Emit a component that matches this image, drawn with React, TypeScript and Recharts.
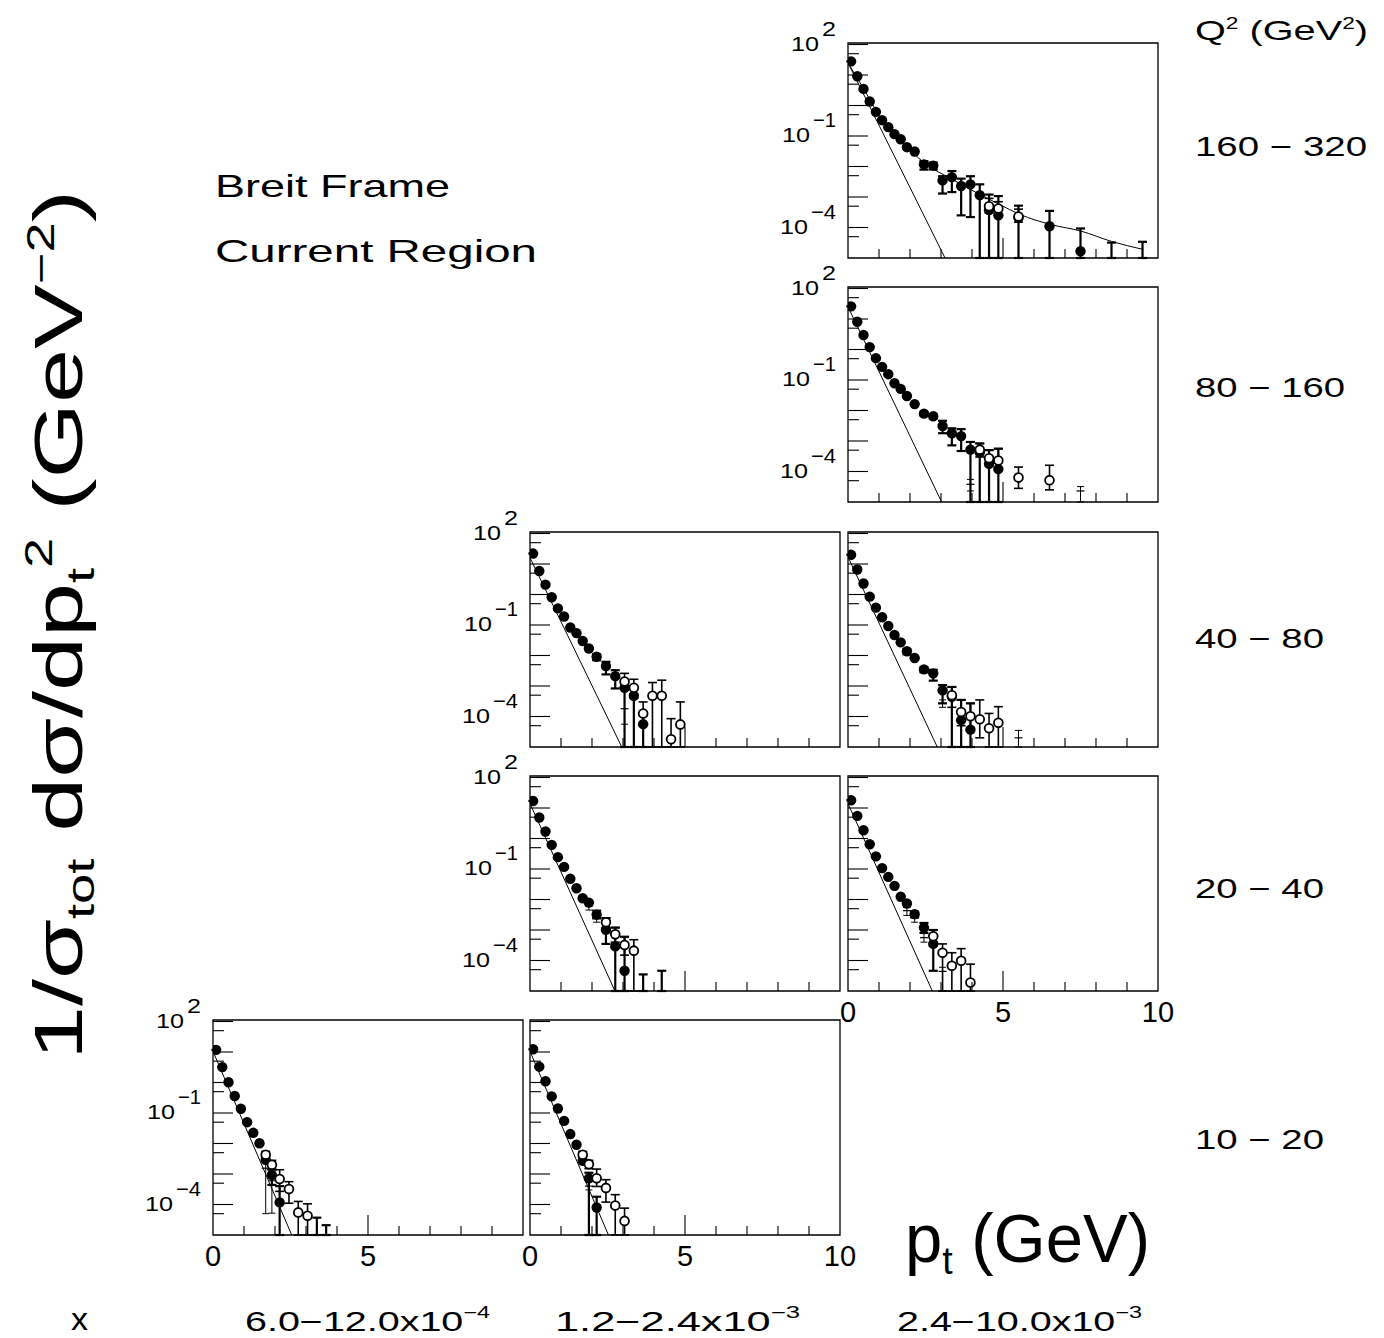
import React from 'react';
import { ComposedChart, Scatter, Line, XAxis, YAxis, ErrorBar, ReferenceArea } from 'recharts';

type Pt = [number, number, number?, number?]; // pt, value, low, high
type LP = [number, number];

const BOT = 1e-5; // error bar running down to the bottom of the frame (and hidden points)
const FONT = '"Liberation Sans", Arial, sans-serif';

const xTicks = [0, 1, 2, 3, 4, 5, 6, 7, 8, 9, 10];
const yTicks = [100, 50, 10, 5, 1, 0.5, 0.1, 0.05, 0.01, 0.005, 0.001, 5e-4, 1e-4, 5e-5];
const yLabelTicks: [number, string, number][] = [[100, '2', 14], [0.1, '−1', 23], [1e-4, '−4', 25]];

const q2Bins = ['160 − 320', '80 − 160', '40 − 80', '20 − 40', '10 − 20'];
const xBins: [string, string][] = [['6.0−12.0x10', '−4'], ['1.2−2.4x10', '−3'], ['2.4−10.0x10', '−3']];

// ---------- Q2 160-320, x 2.4-10.0e-3 ----------
const filled_160_320: Pt[] = [
  [0.1, 28], [0.3, 9.1], [0.5, 3.5], [0.7, 1.35], [0.9, 0.62], [1.1, 0.33], [1.3, 0.195],
  [1.5, 0.115], [1.7, 0.078], [1.9, 0.043], [2.15, 0.031], [2.45, 0.0117, 0.0079, 0.015],
  [2.75, 0.0107, 0.008, 0.0135], [3.05, 3.5e-3, 1.3e-3, 4.8e-3], [3.35, 4.5e-3, 1.45e-3, 7.1e-3],
  [3.65, 2.3e-3, 2.5e-4, 4.0e-3], [3.95, 2.6e-3, 2.2e-4, 4.8e-3], [4.25, 1.15e-3, BOT, 2.6e-3],
  [4.55, 3.7e-4, BOT, 1.2e-3], [4.85, 2.5e-4, BOT, 1.07e-3], [5.5, 2.1e-4, BOT, 5.2e-4],
  [6.5, 1.1e-4, BOT, 3.5e-4], [7.5, 1.66e-5, BOT, 9.3e-5], [8.5, BOT, BOT, 3.2e-5], [9.5, BOT, BOT, 3.4e-5],
];
const open_160_320: Pt[] = [[4.55, 5.0e-4, 3e-4, 9e-4], [4.85, 4.2e-4, 2.5e-4, 7e-4], [5.5, 2.3e-4, 1.5e-4, 4e-4]];
const cross_160_320: Pt[] = [];
const steep_160_320: LP[] = [[0, 25], [3.13, 1e-5]];
const fit_160_320: LP[] = [
  [0, 25], [0.5, 3.6], [1.12, 0.31], [1.72, 0.068], [2.46, 0.0132], [3.38, 3.7e-3], [4.26, 1.2e-3],
  [4.9, 5.6e-4], [5.54, 2.7e-4], [6.53, 1.26e-4], [7.52, 7.6e-5], [8.5, 3.5e-5], [9.53, 1.9e-5],
];

// ---------- Q2 80-160, x 2.4-10.0e-3 ----------
const filled_80_160: Pt[] = [
  [0.1, 26], [0.3, 8.1], [0.5, 3.0], [0.7, 1.2], [0.9, 0.52], [1.1, 0.27], [1.3, 0.155], [1.5, 0.078],
  [1.7, 0.051], [1.9, 0.030], [2.15, 0.0162], [2.45, 7.9e-3, 6.8e-3, 9e-3], [2.75, 6.5e-3, 5.5e-3, 7.5e-3],
  [3.05, 3.1e-3, 1.8e-3, 4.6e-3], [3.35, 1.8e-3, 7.2e-4, 2.6e-3], [3.65, 1.45e-3, 4.7e-4, 2.45e-3],
  [3.95, 5.2e-4, BOT, 9.3e-4], [4.25, 4.2e-4, BOT, 8.3e-4], [4.55, 1.8e-4, BOT, 5e-4], [4.85, 1.2e-4, BOT, 5.6e-4],
];
const open_80_160: Pt[] = [
  [4.25, 5.2e-4, 3e-4, 8.3e-4], [4.55, 2.7e-4, 1.5e-4, 5e-4], [4.85, 2.3e-4, 1.2e-4, 5.6e-4],
  [5.5, 6.3e-5, 2.8e-5, 1.4e-4], [6.5, 5.2e-5, 2.5e-5, 1.6e-4],
];
const cross_80_160: Pt[] = [[3.95, 3.8e-5, 2.3e-5, 5.5e-5], [7.5, 2.3e-5, BOT, 3.2e-5]];
const steep_80_160: LP[] = [[0, 25], [3.02, 1e-5]];

// ---------- Q2 40-80, x 1.2-2.4e-3 ----------
const filled_40_80_a: Pt[] = [
  [0.1, 22], [0.3, 5.9], [0.5, 2.1], [0.7, 0.81], [0.9, 0.35], [1.1, 0.19], [1.3, 0.083], [1.5, 0.054],
  [1.7, 0.030], [1.9, 0.017], [2.15, 9.1e-3, 7e-3, 1.1e-2], [2.45, 4.5e-3, 2.4e-3, 6.2e-3],
  [2.75, 2.1e-3, 8.3e-4, 3.3e-3], [3.05, 8.7e-4, BOT, 1.2e-3], [3.35, 4.8e-4, BOT, 9e-4], [3.65, 5.6e-5, BOT, 1.1e-4],
];
const open_40_80_a: Pt[] = [
  [3.05, 1.4e-3, 8e-4, 2.6e-3], [3.35, 8.7e-4, 4e-4, 1.66e-3], [3.65, 1.26e-4, 5e-5, 3e-4],
  [3.95, 4.8e-4, BOT, 1.3e-3], [4.25, 4.8e-4, BOT, 1.55e-3], [4.55, 1.8e-5, BOT, 8.5e-5], [4.85, 5.5e-5, BOT, 3e-4],
];
const cross_40_80_a: Pt[] = [[3.05, 1.8e-4, 5.6e-5, 8e-4]];
const steep_40_80_a: LP[] = [[0, 16], [2.96, 1e-5]];

// ---------- Q2 40-80, x 2.4-10.0e-3 ----------
const filled_40_80_b: Pt[] = [
  [0.1, 20], [0.3, 6.6], [0.5, 2.3], [0.7, 0.85], [0.9, 0.37], [1.1, 0.18], [1.3, 0.093], [1.5, 0.047],
  [1.7, 0.027], [1.9, 0.0138, 0.011, 0.016], [2.15, 8.3e-3], [2.45, 3.5e-3, 2.8e-3, 4.1e-3],
  [2.75, 2.6e-3, 1.5e-3, 3.4e-3], [3.05, 7.2e-4, 2.7e-4, 1.07e-3], [3.35, 4.4e-4, BOT, 9.3e-4],
  [3.65, 7.6e-5, BOT, 3.5e-4], [3.95, 3.7e-5, BOT, 2.7e-4],
];
const open_40_80_b: Pt[] = [
  [3.35, 5e-4, 2e-4, 9.3e-4], [3.65, 1.4e-4, 5e-5, 3.5e-4], [3.95, 1.02e-4, 4e-5, 2.7e-4],
  [4.25, 8.1e-5, 2e-5, 3.5e-4], [4.55, 4.1e-5, BOT, 1.26e-4], [4.85, 6.2e-5, BOT, 2.1e-4],
];
const cross_40_80_b: Pt[] = [[3.05, 2.7e-4, 2e-4, 3.5e-4], [5.5, 2e-5, BOT, 3.5e-5]];
const steep_40_80_b: LP[] = [[0, 17], [2.88, 1e-5]];

// ---------- Q2 20-40, x 1.2-2.4e-3 ----------
const filled_20_40_a: Pt[] = [
  [0.1, 17], [0.3, 4.9], [0.5, 1.7], [0.7, 0.62], [0.9, 0.245], [1.1, 0.117], [1.3, 0.048], [1.5, 0.0234],
  [1.7, 0.011], [1.9, 7.9e-3], [2.15, 3.2e-3, 2.4e-3, 4.3e-3], [2.45, 1.02e-3, 3.5e-4, 2.45e-3],
  [2.75, 2.9e-4, BOT, 1.2e-3], [3.05, 4.6e-5, BOT, 6e-4], [3.65, BOT, BOT, 3.5e-5], [4.25, BOT, BOT, 4.6e-5],
];
const open_20_40_a: Pt[] = [
  [2.45, 1.8e-3, 1.2e-3, 2.5e-3], [2.75, 7.2e-4, 4e-4, 1.2e-3], [3.05, 3.2e-4, 1.5e-4, 6e-4], [3.35, 2.1e-4, BOT, 4.8e-4],
];
const cross_20_40_a: Pt[] = [[1.9, 6.2e-3, 4.5e-3, 7.5e-3], [2.15, 2.6e-3, 1.8e-3, 3.5e-3]];
const steep_20_40_a: LP[] = [[0, 14], [2.74, 1e-5]];

// ---------- Q2 20-40, x 2.4-10.0e-3 ----------
const filled_20_40_b: Pt[] = [
  [0.1, 18], [0.3, 5.5], [0.5, 1.86], [0.7, 0.65], [0.9, 0.26], [1.1, 0.107], [1.3, 0.055], [1.5, 0.028],
  [1.7, 0.0123], [1.9, 7.4e-3], [2.15, 3.3e-3, 2.6e-3, 4e-3], [2.45, 1.2e-3, 8e-4, 1.7e-3], [2.75, 3.5e-4, 4.6e-5, 1e-3],
];
const open_20_40_b: Pt[] = [
  [2.75, 6.2e-4, 3e-4, 1e-3], [3.05, 1.8e-4, BOT, 3.5e-4], [3.35, 6.7e-5, BOT, 1.8e-4],
  [3.65, 9.8e-5, BOT, 2.45e-4], [3.95, 1.9e-5, BOT, 7.6e-5],
];
const cross_20_40_b: Pt[] = [
  [1.9, 4.3e-3, 3e-3, 5.5e-3], [2.15, 2.5e-3, 1.8e-3, 3.3e-3], [2.45, 5.6e-4, 4e-4, 8e-4], [3.05, 4.4e-5, BOT, 6e-5],
];
const steep_20_40_b: LP[] = [[0, 14], [2.72, 1e-5]];

// ---------- Q2 10-20, x 6.0-12.0e-4 ----------
const filled_10_20_a: Pt[] = [
  [0.1, 11.7], [0.3, 3.2], [0.5, 1.02], [0.7, 0.36], [0.9, 0.138], [1.1, 0.050], [1.3, 0.0224], [1.5, 0.0102],
  [1.7, 2.9e-3], [1.9, 9.3e-4, 4.4e-4, 1.4e-3], [2.15, 1.17e-4, BOT, 4e-4], [3.35, BOT, BOT, 3.7e-5], [3.65, BOT, BOT, 2.1e-5],
];
const open_10_20_a: Pt[] = [
  [1.7, 4.3e-3, 3.5e-3, 5.5e-3], [1.9, 2.0e-3, 1.4e-3, 2.8e-3], [2.15, 6.8e-4, 2.7e-4, 1.38e-3],
  [2.45, 3.2e-4, 1.1e-4, 5.6e-4], [2.75, 5.5e-5, BOT, 1.26e-4], [3.05, 4.3e-5, BOT, 1.05e-4],
];
const cross_10_20_a: Pt[] = [[1.7, 1.55e-3, 5e-5, 2.5e-3], [1.9, 4.4e-4, 5.2e-5, 6e-4]];
const steep_10_20_a: LP[] = [[0, 10.5], [2.54, 1e-5]];

// ---------- Q2 10-20, x 1.2-2.4e-3 ----------
const filled_10_20_b: Pt[] = [
  [0.1, 12.3], [0.3, 3.3], [0.5, 1.1], [0.7, 0.35], [0.9, 0.141], [1.1, 0.055], [1.3, 0.0204], [1.5, 9.1e-3],
  [1.7, 2.7e-3], [1.9, 7.2e-4, BOT, 1.1e-3], [2.15, 8e-5, BOT, 1.8e-4],
];
const open_10_20_b: Pt[] = [
  [1.7, 4.3e-3, 3.5e-3, 5.5e-3], [1.9, 2.1e-3, 1.5e-3, 2.8e-3], [2.15, 7.2e-4, 3.9e-4, 1.45e-3],
  [2.45, 3.5e-4, 1.2e-4, 6.5e-4], [2.75, 9.3e-5, BOT, 2.1e-4], [3.05, 2.9e-5, BOT, 7.6e-5],
];
const cross_10_20_b: Pt[] = [[1.9, 4e-4, 3e-4, 5.5e-4]];
const steep_10_20_b: LP[] = [[0, 10.5], [2.53, 1e-5]];

const toRows = (pts: Pt[]) =>
  pts.map(([x, y, lo, hi]) => {
    const l = lo === undefined ? y : lo;
    const h = hi === undefined ? y : hi;
    return { x, y, err: [Math.max(0, y - l), h - y] };
  });
const toLine = (pts: LP[]) => pts.map(([x, y]) => ({ x, y }));

const FilledDot = (p: any) =>
  p.payload && p.payload.y <= BOT ? <g /> : <circle cx={p.cx} cy={p.cy} r={5.2} fill="#000" />;
const OpenDot = (p: any) => <circle cx={p.cx} cy={p.cy} r={4.4} fill="#fff" stroke="#000" strokeWidth={1.8} />;
const CrossMark = (p: any) => <line x1={p.cx - 4} x2={p.cx + 4} y1={p.cy} y2={p.cy} stroke="#000" strokeWidth={1.2} />;

const makeYTick = (showLabels: boolean) => (props: any) => {
  const { x, y, payload } = props;
  const v = payload.value;
  const lg = Math.log10(v);
  const decade = Math.abs(lg - Math.round(lg)) < 1e-6;
  const len = decade ? 20 : 11;
  const lab = yLabelTicks.find((t) => Math.abs(Math.log10(t[0]) - lg) < 1e-6);
  return (
    <g>
      <line x1={x} x2={x + len} y1={y} y2={y} stroke="#000" strokeWidth={1.1} />
      {showLabels && lab && (
        <g fontFamily={FONT} fill="#000">
          <text x={x - 12} y={y - 9} textAnchor="end" fontSize={21} textLength={lab[2]} lengthAdjust="spacingAndGlyphs">
            {lab[1]}
          </text>
          <text x={x - 15 - lab[2]} y={y + 6} textAnchor="end" fontSize={21} textLength={28} lengthAdjust="spacingAndGlyphs">
            10
          </text>
        </g>
      )}
    </g>
  );
};

const makeXTick = (labels: number[]) => (props: any) => {
  const { x, y, payload } = props;
  const v = payload.value;
  const len = v === 0 || v === 10 ? 0 : v === 5 ? 20 : 9;
  return (
    <g>
      {len > 0 && <line x1={x} x2={x} y1={y} y2={y - len} stroke="#000" strokeWidth={1.1} />}
      {labels.includes(v) && (
        <text x={x} y={y + 31} textAnchor="middle" fontSize={29} fontFamily={FONT} fill="#000">
          {v}
        </text>
      )}
    </g>
  );
};

type PanelProps = {
  left: number; top: number; filled: Pt[]; open: Pt[]; cross: Pt[]; steep: LP[]; fit?: LP[];
  yLab: boolean; xLab: number[];
};

const MT = 30; // top margin inside each chart
function Panel({ left, top, filled, open, cross, steep, fit, yLab, xLab }: PanelProps) {
  return (
    <div style={{ position: 'absolute', left: left - 80, top: top - MT }}>
      <ComposedChart width={415} height={215 + MT + 45} margin={{ top: MT, right: 25, bottom: 0, left: 0 }}>
        <XAxis type="number" dataKey="x" domain={[0, 10]} ticks={xTicks} interval={0} tickSize={0} tickMargin={0}
          axisLine={false} tickLine={false} height={45} allowDataOverflow tick={makeXTick(xLab)} />
        <YAxis type="number" dataKey="y" scale="log" domain={[1e-5, 112]} ticks={yTicks} interval={0} tickSize={0}
          tickMargin={0} axisLine={false} tickLine={false} width={80} allowDataOverflow tick={makeYTick(yLab)} />
        <ReferenceArea x1={0} x2={10} y1={1e-5} y2={112} fill="none" stroke="#000" strokeWidth={1.3} ifOverflow="visible" />
        <Line data={toLine(steep)} dataKey="y" type="linear" stroke="#000" strokeWidth={1} dot={false} activeDot={false} isAnimationActive={false} />
        {fit && (
          <Line data={toLine(fit)} dataKey="y" type="monotone" stroke="#000" strokeWidth={1} dot={false} activeDot={false} isAnimationActive={false} />
        )}
        <Scatter data={toRows(cross)} dataKey="y" shape={CrossMark} isAnimationActive={false}>
          <ErrorBar dataKey="err" direction="y" width={3.5} strokeWidth={1} stroke="#000" />
        </Scatter>
        <Scatter data={toRows(filled)} dataKey="y" shape={FilledDot} isAnimationActive={false}>
          <ErrorBar dataKey="err" direction="y" width={4.5} strokeWidth={2.2} stroke="#000" />
        </Scatter>
        <Scatter data={toRows(open)} dataKey="y" shape={OpenDot} isAnimationActive={false}>
          <ErrorBar dataKey="err" direction="y" width={4.5} strokeWidth={1.6} stroke="#000" />
        </Scatter>
      </ComposedChart>
    </div>
  );
}

const panels: PanelProps[] = [
  { left: 848, top: 43, filled: filled_160_320, open: open_160_320, cross: cross_160_320, steep: steep_160_320, fit: fit_160_320, yLab: true, xLab: [] },
  { left: 848, top: 287, filled: filled_80_160, open: open_80_160, cross: cross_80_160, steep: steep_80_160, yLab: true, xLab: [] },
  { left: 530, top: 532, filled: filled_40_80_a, open: open_40_80_a, cross: cross_40_80_a, steep: steep_40_80_a, yLab: true, xLab: [] },
  { left: 848, top: 532, filled: filled_40_80_b, open: open_40_80_b, cross: cross_40_80_b, steep: steep_40_80_b, yLab: false, xLab: [] },
  { left: 530, top: 776, filled: filled_20_40_a, open: open_20_40_a, cross: cross_20_40_a, steep: steep_20_40_a, yLab: true, xLab: [] },
  { left: 848, top: 776, filled: filled_20_40_b, open: open_20_40_b, cross: cross_20_40_b, steep: steep_20_40_b, yLab: false, xLab: [0, 5, 10] },
  { left: 213, top: 1020, filled: filled_10_20_a, open: open_10_20_a, cross: cross_10_20_a, steep: steep_10_20_a, yLab: true, xLab: [0, 5] },
  { left: 530, top: 1020, filled: filled_10_20_b, open: open_10_20_b, cross: cross_10_20_b, steep: steep_10_20_b, yLab: false, xLab: [0, 5, 10] },
];

const q2Y = [156, 397, 648, 898, 1149];
const q2W = [172, 150, 129, 129, 129];
const xBinX = [245, 555, 897];

export default function App() {
  return (
    <div style={{ position: 'absolute', left: 0, top: 0, width: 1384, height: 1338, background: '#fff', overflow: 'hidden' }}>
      <svg width={1384} height={1338} style={{ position: 'absolute', left: 0, top: 0 }} fontFamily={FONT} fill="#000">
        <text transform="translate(82, 625) rotate(-90)" textAnchor="middle" fontSize={68} textLength={870} lengthAdjust="spacingAndGlyphs">
          1/σ<tspan fontSize={38} dy={12}>tot</tspan>
          <tspan dy={-12}> dσ/dp</tspan>
          <tspan fontSize={38} dy={12}>t</tspan>
          <tspan fontSize={38} dy={-42}>2</tspan>
          <tspan dy={30}> (GeV</tspan>
          <tspan fontSize={38} dy={-28}>−2</tspan>
          <tspan dy={28}>)</tspan>
        </text>
        <text x={905} y={1262} fontSize={68} textLength={245} lengthAdjust="spacingAndGlyphs">
          p<tspan fontSize={38} dy={12}>t</tspan>
          <tspan dy={-12}> (GeV)</tspan>
        </text>
        <text x={215} y={197} fontSize={32} textLength={235} lengthAdjust="spacingAndGlyphs">Breit Frame</text>
        <text x={215} y={262} fontSize={32} textLength={322} lengthAdjust="spacingAndGlyphs">Current Region</text>
        <text x={1195} y={40} fontSize={28} textLength={173} lengthAdjust="spacingAndGlyphs">
          Q<tspan fontSize={16} dy={-11}>2</tspan>
          <tspan fontSize={28} dy={11}> (GeV</tspan>
          <tspan fontSize={16} dy={-11}>2</tspan>
          <tspan fontSize={28} dy={11}>)</tspan>
        </text>
        {q2Bins.map((t, i) => (
          <text key={t} x={1195} y={q2Y[i]} fontSize={28} textLength={q2W[i]} lengthAdjust="spacingAndGlyphs">{t}</text>
        ))}
        <text x={71} y={1330} fontSize={32} textLength={17} lengthAdjust="spacingAndGlyphs">x</text>
        {xBins.map(([t, e], i) => (
          <text key={t} x={xBinX[i]} y={1331} fontSize={27} textLength={245} lengthAdjust="spacingAndGlyphs">
            {t}<tspan fontSize={16} dy={-13}>{e}</tspan>
          </text>
        ))}
      </svg>
      {panels.map((p, i) => (
        <Panel key={i} {...p} />
      ))}
    </div>
  );
}
